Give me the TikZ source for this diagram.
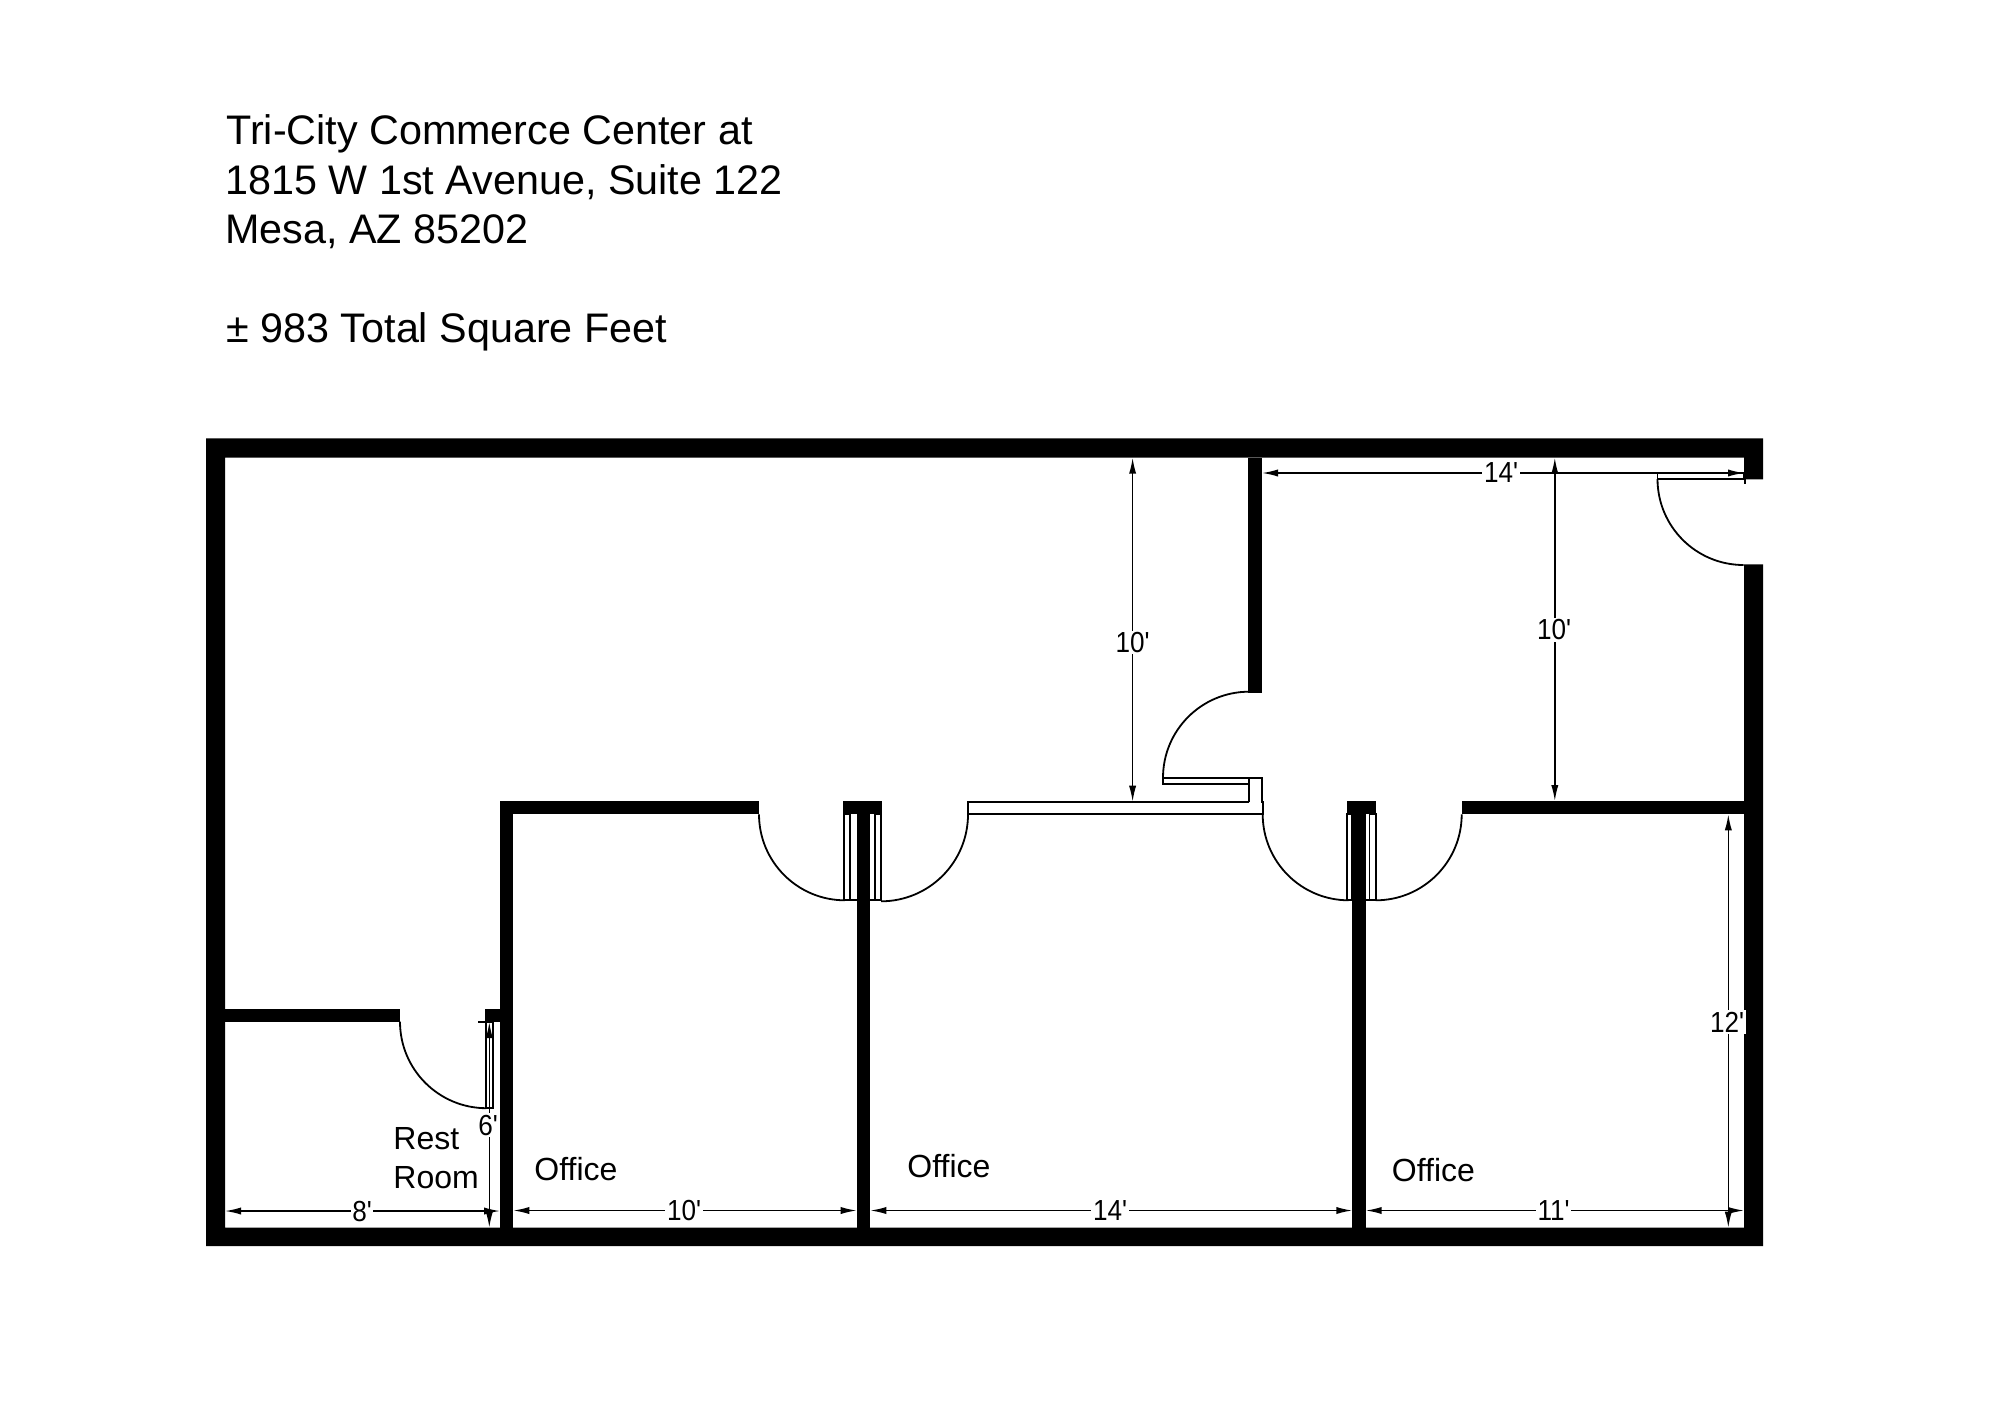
\documentclass[tikz,border=0pt]{standalone}
\usepackage{fontspec}
\setmainfont{Liberation Sans}
\newfontfamily\dimfont[FakeStretch=0.9]{Liberation Sans}
\usetikzlibrary{arrows.meta}
\tikzset{
	wall/.style={fill=black},
	thinline/.style={draw=black,line width=0.9pt},
	dimline/.style={draw=black,line width=0.75pt,<->,>={Latex[length=8pt,width=3.6pt]}},
	dimtext/.style={fill=white,inner sep=0.8pt,font=\dimfont\fontsize{14.5}{14.5}\selectfont},
	titletext/.style={anchor=base west,inner sep=0pt,font=\fontsize{20.65}{20.65}\selectfont},
	roomtext/.style={anchor=base west,inner sep=0pt,font=\fontsize{16}{16}\selectfont},
}
\begin{document}
\begin{tikzpicture}[x=0.5pt,y=-0.5pt]
\useasboundingbox (0,0) rectangle (2000,1413);

% heading
\node[titletext] (title1) at (226,144) {Tri-City Commerce Center at};
\node[titletext] (title2) at (225,194) {1815 W 1st Avenue, Suite 122};
\node[titletext] (title3) at (225,243) {Mesa, AZ 85202};
\node[titletext] (title4) at (226,342) {± 983 Total Square Feet};

\begin{scope}[shift={(0,1)}]
% dimension lines
\draw[dimline] (1132.6,456.7) -- (1132.6,800.7);
\draw[dimline] (1554.8,456.7) -- (1554.8,800);
\draw[dimline] (1262,472) -- (1744,472);
\draw[dimline] (225,1210) -- (500,1210);
\draw[dimline] (513.3,1209.5) -- (856.7,1209.5);
\draw[dimline] (870.3,1209.5) -- (1352.3,1209.5);
\draw[dimline] (1365.7,1209.5) -- (1744,1209.5);
\draw[dimline] (489.3,1021) -- (489.3,1226.7);
\draw[dimline] (1728.3,813.3) -- (1728.3,1226.7);

% outer walls
\fill[wall] (206,437.3) -- (1763,437.3) -- (1763,478.3) -- (1744,478.3) -- (1744,456.7)
	-- (225,456.7) -- (225,1226.7) -- (1744,1226.7) -- (1744,563.3) -- (1763,563.3)
	-- (1763,1245) -- (206,1245) -- cycle;

% inner walls
\fill[wall] (1248,456.7) rectangle (1262,691.5);
\fill[wall] (500,800) rectangle (513.3,1226.7);
\fill[wall] (500,800) rectangle (759,813.3);
\fill[wall] (843.3,800) rectangle (881.7,813.3);
\fill[wall] (856.7,813.3) rectangle (870.3,1226.7);
\fill[wall] (1346.7,800) rectangle (1376,813.3);
\fill[wall] (1352.3,813.3) rectangle (1365.7,1226.7);
\fill[wall] (1461.7,800) rectangle (1744,813.3);
\fill[wall] (225,1007.7) rectangle (400,1020.7);
\fill[wall] (485,1007.7) rectangle (500,1020.7);

% doors
\draw[thinline] (400,1020.7) arc (180:90:86.5);
\draw[thinline] (486,1020.7) rectangle (492.7,1106.7);
\draw[thinline] (478,1020.7) -- (490,1020.7);

\draw[thinline] (759,813.3) arc (180:90:86);
\draw[thinline] (844,813.3) rectangle (850,899);
\draw[thinline] (850,899) -- (856.7,899);

\draw[thinline] (968,813.3) arc (0:90:87);
\draw[thinline] (875,813.3) rectangle (881,899);
\draw[thinline] (870.3,899) -- (875,899);

\draw[thinline] (1262.7,813.3) arc (180:90:86);
\draw[thinline] (1347.3,813.3) rectangle (1352.3,899);

\draw[thinline] (1461.7,813.3) arc (0:90:86);
\draw[thinline] (1369.5,813.3) rectangle (1375.7,899);
\draw[thinline] (1365.7,899) -- (1369.5,899);

\draw[thinline] (1163,776.7) arc (180:270:86);
\draw[thinline] (1163,776.7) rectangle (1249.3,782.7);

\draw[thinline] (1657.5,478) arc (180:90:86);
\draw[thinline] (1657.5,472) rectangle (1744,478);
\draw[thinline] (1745,478) -- (1745,483);

% window
\draw[thinline] (1249.3,801) -- (967.7,801) -- (967.7,813.3) -- (1262.7,813.3) -- (1262.7,801)
	-- (1261.7,801) -- (1261.7,776.7) -- (1249.3,776.7) -- (1249.3,801);

% dimension labels
\node[dimtext] (dimhallA) at (1132.6,641.6) {10'};
\node[dimtext] (dimhallB) at (1554,629) {10'};
\node[dimtext] (dimlobby) at (1501,472) {14'};
\node[dimtext] (dimrest) at (362,1210) {8'};
\node[dimtext] (dimofficeA) at (684,1209.5) {10'};
\node[dimtext] (dimofficeB) at (1110,1209.5) {14'};
\node[dimtext] (dimofficeC) at (1553.6,1209.5) {11'};
\node[dimtext] (dimrestB) at (488,1124) {6'};
\node[dimtext] (dimofficeD) at (1727,1021) {12'};
\end{scope}

% room names
\node[roomtext] (rest) at (393,1149.5) {Rest};
\node[roomtext] (room) at (393,1188.5) {Room};
\node[roomtext] (officeA) at (534,1180.5) {Office};
\node[roomtext] (officeB) at (907,1177.5) {Office};
\node[roomtext] (officeC) at (1391.5,1181.5) {Office};
\end{tikzpicture}
\end{document}
